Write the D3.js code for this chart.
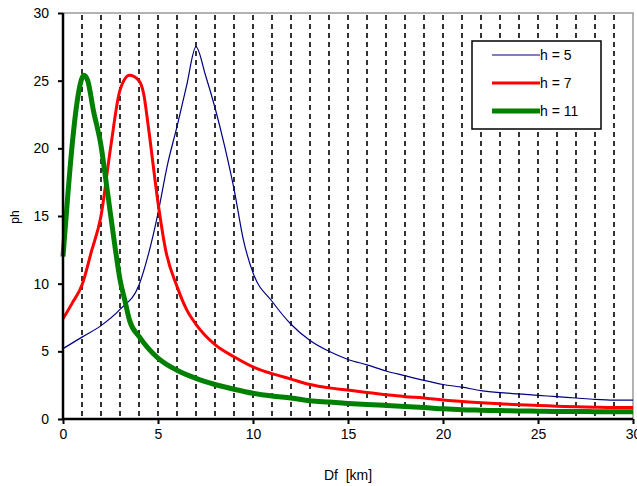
<!DOCTYPE html>
<html>
<head>
<meta charset="utf-8">
<script src="https://cdn.jsdelivr.net/npm/d3@7"></script>
<style>
  body { margin: 0; background: #fff; }
  text { font-family: "Liberation Sans", Arial, sans-serif; fill: #000; }
</style>
</head>
<body>
<svg id="chart" width="637" height="486"></svg>
<script>
// distance Df [km]
var xH5 = [0, 1, 2, 3, 4, 4.5, 5, 5.5, 6, 6.5, 7, 7.5, 8, 8.5, 9, 9.5, 10, 11, 12, 13, 14, 15, 16, 17, 18, 19, 20, 21, 22, 23, 24, 25, 26, 27, 28, 29, 30];
var yH5 = [5.2, 6.05, 6.9, 8.1, 9.9, 12.2, 15.2, 18.8, 21.6, 24.6, 27.5, 25.4, 23.0, 20.2, 17.0, 13.2, 10.8, 8.7, 7.0, 5.8, 5.0, 4.4, 4.0, 3.55, 3.2, 2.85, 2.55, 2.35, 2.1, 1.95, 1.85, 1.75, 1.65, 1.55, 1.45, 1.4, 1.4];

var xH7 = [0, 0.5, 1, 1.5, 2, 2.5, 3, 3.5, 4, 4.25, 4.5, 5, 5.4, 6, 6.5, 7, 8, 9, 10, 11, 12, 13, 14, 15, 16, 17, 18, 19, 20, 21, 22, 23, 24, 25, 26, 27, 28, 29, 30];
var yH7 = [7.4, 8.6, 9.9, 12.4, 15.0, 20.0, 24.3, 25.4, 25.0, 24.0, 21.5, 16.0, 12.5, 9.8, 8.1, 7.0, 5.5, 4.6, 3.85, 3.35, 2.95, 2.55, 2.3, 2.14, 1.95, 1.8, 1.65, 1.55, 1.4, 1.3, 1.2, 1.12, 1.05, 1.0, 0.95, 0.9, 0.87, 0.85, 0.85];

var xH11 = [0, 0.25, 0.5, 0.75, 1.1, 1.3, 1.6, 2, 2.3, 2.75, 3, 3.25, 3.5, 4, 4.5, 5, 6, 7, 8, 9, 10, 11, 12, 13, 14, 15, 16, 17, 18, 19, 20, 21, 22, 23, 24, 25, 26, 27, 28, 29, 30];
var yH11 = [12.0, 16.5, 20.5, 23.5, 25.4, 25.0, 22.8, 20.2, 17.2, 12.6, 10.3, 8.8, 7.3, 6.1, 5.2, 4.5, 3.6, 3.0, 2.55, 2.2, 1.9, 1.7, 1.55, 1.35, 1.25, 1.15, 1.07, 1.0, 0.93, 0.85, 0.75, 0.68, 0.65, 0.62, 0.6, 0.58, 0.55, 0.55, 0.54, 0.53, 0.53];

var seriesNames = ["h = 5", "h = 7", "h = 11"];
var xTicks = [0, 5, 10, 15, 20, 25, 30];
var yTicks = [0, 5, 10, 15, 20, 25, 30];

var svg = d3.select("#chart");
var plotLeft = 63, plotRight = 633, plotTop = 13, plotBottom = 419;

var xScale = d3.scaleLinear().domain([0, 30]).range([plotLeft, plotRight]);
var yScale = d3.scaleLinear().domain([0, 30]).range([plotBottom, plotTop]);

//dashed verticals every km
svg.append("g").selectAll("line")
	.data(d3.range(1, 30))
	.enter().append("line")
	.attr("x1", function(d) { return xScale(d); })
	.attr("x2", function(d) { return xScale(d); })
	.attr("y1", plotTop + 2)
	.attr("y2", plotBottom)
	.attr("stroke", "#000")
	.attr("stroke-width", 1.6)
	.attr("stroke-dasharray", "5,4");

//plot frame, top and right in grey
svg.append("path")
	.attr("d", "M" + plotLeft + "," + plotTop + "H" + plotRight + "V" + plotBottom)
	.attr("fill", "none")
	.attr("stroke", "#9a9a9a")
	.attr("stroke-width", 1.5);

//lines
var line = d3.line()
	.x(function(d) { return xScale(d[0]); })
	.y(function(d) { return yScale(d[1]); })
	.curve(d3.curveMonotoneX);

var series = [
	{ xs: xH5, ys: yH5, color: "#000080", width: 1.2 },
	{ xs: xH7, ys: yH7, color: "#ff0000", width: 3 },
	{ xs: xH11, ys: yH11, color: "#008000", width: 5 }
];

series.forEach(function(s) {
	svg.append("path")
		.datum(d3.zip(s.xs, s.ys))
		.attr("d", line)
		.attr("fill", "none")
		.attr("stroke", s.color)
		.attr("stroke-width", s.width)
		.attr("stroke-linejoin", "round");
});

//axes
var xAxis = svg.append("g")
	.attr("transform", "translate(0," + plotBottom + ")")
	.call(d3.axisBottom(xScale).tickValues(xTicks).tickSize(5).tickPadding(5));
var yAxis = svg.append("g")
	.attr("transform", "translate(" + plotLeft + ",0)")
	.call(d3.axisLeft(yScale).tickValues(yTicks).tickSize(5).tickPadding(9));

[xAxis, yAxis].forEach(function(a) {
	a.select(".domain").attr("stroke", "#000").attr("stroke-width", 2.5);
	a.selectAll(".tick line").attr("stroke", "#000").attr("stroke-width", 2);
	a.selectAll(".tick text")
		.style("font-family", "'Liberation Sans', Arial, sans-serif")
		.style("font-size", "14px")
		.attr("fill", "#000");
});
xAxis.select(".domain").attr("d", "M" + plotLeft + ",0H" + plotRight);
yAxis.select(".domain").attr("d", "M0," + plotTop + "V" + plotBottom);

//axis titles
svg.append("text")
	.attr("x", 348)
	.attr("y", 480)
	.attr("text-anchor", "middle")
	.style("font-size", "14px")
	.style("white-space", "pre")
	.text("Df  [km]");

svg.append("text")
	.attr("transform", "translate(19,217) rotate(-90)")
	.attr("text-anchor", "middle")
	.style("font-size", "12px")
	.text("ph");

//legend
var legend = svg.append("g");
legend.append("rect")
	.attr("x", 472).attr("y", 41)
	.attr("width", 129).attr("height", 88)
	.attr("fill", "#fff")
	.attr("stroke", "#000")
	.attr("stroke-width", 1.5);

var legendY = d3.scalePoint().domain(seriesNames).range([55, 111]);

seriesNames.forEach(function(name, i) {
	legend.append("line")
		.attr("x1", 492).attr("x2", 540)
		.attr("y1", legendY(name)).attr("y2", legendY(name))
		.attr("stroke", series[i].color)
		.attr("stroke-width", series[i].width);
	legend.append("text")
		.attr("x", 540)
		.attr("y", legendY(name) + 5)
		.style("font-size", "14px")
		.text(name);
});
</script>
</body>
</html>
